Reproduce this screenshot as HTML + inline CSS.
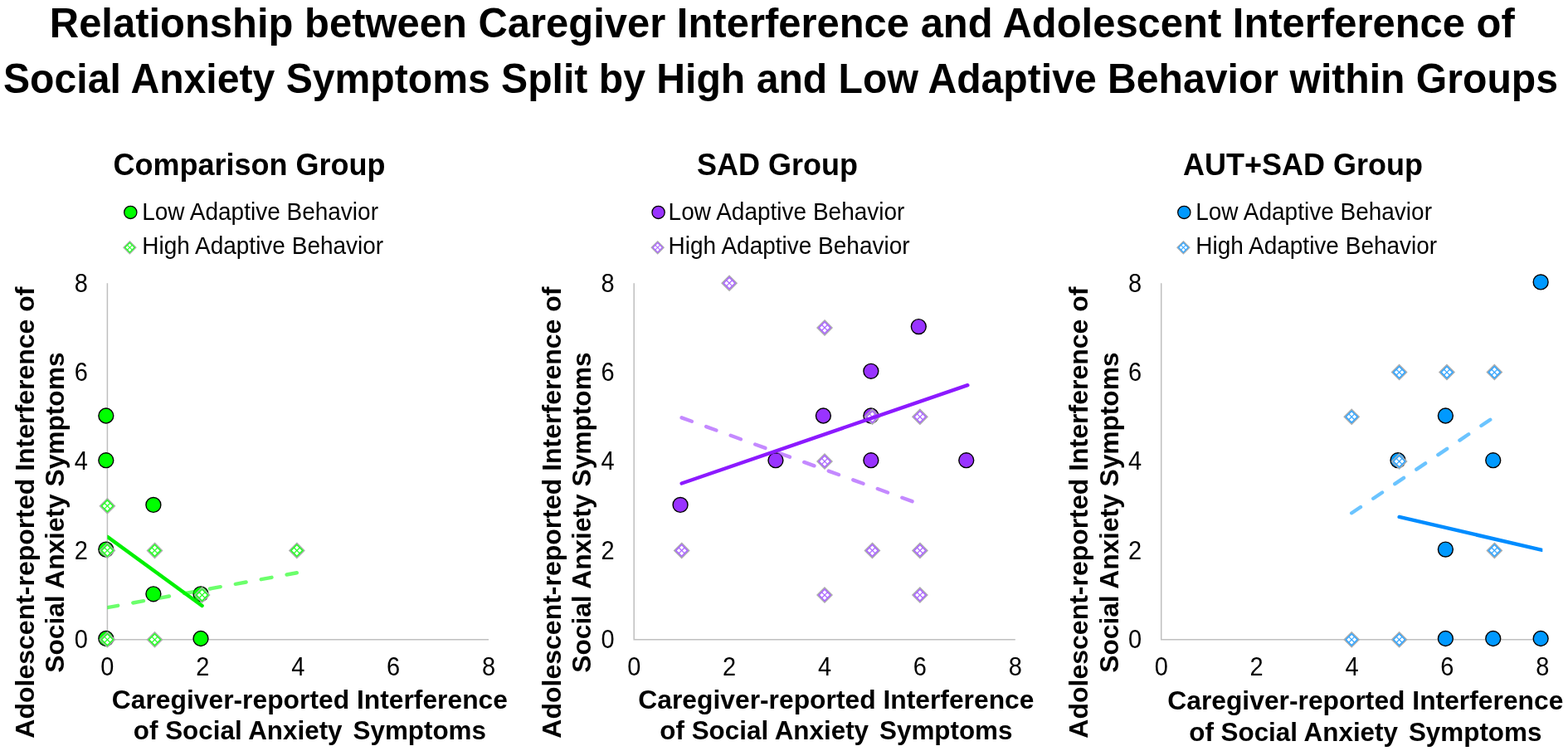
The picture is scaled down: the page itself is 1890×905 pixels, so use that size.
<!DOCTYPE html>
<html><head><meta charset="utf-8"><title>Relationship between Caregiver Interference and Adolescent Interference</title>
<style>
html,body{margin:0;padding:0;background:#fff;}
body{width:1890px;height:905px;overflow:hidden;}
svg{display:block;}
text{font-family:"Liberation Sans",Arial,sans-serif;fill:#000;}
.t{font-weight:bold;font-size:49.5px;}
.pt{font-weight:bold;font-size:36px;}
.lg{font-size:28px;}
.tk{font-size:29px;}
.at{font-weight:bold;font-size:31.8px;}
.at2{font-weight:bold;font-size:31.4px;}
.ay{font-weight:bold;font-size:32px;}
.ay2{font-weight:bold;font-size:31.7px;}
</style></head><body>
<svg width="1890" height="905" viewBox="0 0 1890 905">
<rect width="1890" height="905" fill="#fff"/>
<text class="t" x="59.8" y="44.8" textLength="1766" lengthAdjust="spacingAndGlyphs">Relationship between Caregiver Interference and Adolescent Interference of</text>
<text class="t" x="4" y="112.2" textLength="1874" lengthAdjust="spacingAndGlyphs">Social Anxiety Symptoms Split by High and Low Adaptive Behavior within Groups</text>
<g id="panel1">
<text class="pt" x="300.60" y="211.20" text-anchor="middle">Comparison Group</text>
<circle cx="157.3" cy="255.9" r="7.6" fill="#00ff00" stroke="#000" stroke-width="1.3"/>
<text class="lg" transform="translate(171.20 264.50) scale(1 1.06)">Low Adaptive Behavior</text>
<path d="M156.40 290.70L164.00 298.30L156.40 305.90L148.80 298.30Z" fill="#2cff2c" stroke="#adadad" stroke-width="1.1"/><path d="M156.40 293.44L158.45 295.49L156.40 297.54L154.35 295.49ZM159.21 296.25L161.26 298.30L159.21 300.35L157.16 298.30ZM156.40 299.06L158.45 301.11L156.40 303.16L154.35 301.11ZM153.59 296.25L155.64 298.30L153.59 300.35L151.54 298.30Z" fill="#fff"/>
<text class="lg" transform="translate(171.20 306.30) scale(1 1.06)">High Adaptive Behavior</text>
<path d="M129.40 341.20V770.80H589.00" fill="none" stroke="#bfbfbf" stroke-width="1.5"/>
<text class="tk" transform="translate(105.80 781.20) scale(1 1.07)" text-anchor="end">0</text>
<text class="tk" transform="translate(129.40 813.60) scale(1 1.07)" text-anchor="middle">0</text>
<text class="tk" transform="translate(105.80 673.80) scale(1 1.07)" text-anchor="end">2</text>
<text class="tk" transform="translate(244.30 813.60) scale(1 1.07)" text-anchor="middle">2</text>
<text class="tk" transform="translate(105.80 566.40) scale(1 1.07)" text-anchor="end">4</text>
<text class="tk" transform="translate(359.20 813.60) scale(1 1.07)" text-anchor="middle">4</text>
<text class="tk" transform="translate(105.80 459.00) scale(1 1.07)" text-anchor="end">6</text>
<text class="tk" transform="translate(474.10 813.60) scale(1 1.07)" text-anchor="middle">6</text>
<text class="tk" transform="translate(105.80 351.60) scale(1 1.07)" text-anchor="end">8</text>
<text class="tk" transform="translate(589.00 813.60) scale(1 1.07)" text-anchor="middle">8</text>
<text class="at" x="373.40" y="853.80" text-anchor="middle">Caregiver-reported Interference</text>
<text class="at2" x="373.4" y="891.4" text-anchor="middle">of Social Anxiety <tspan dx="4.2">Symptoms</tspan></text>
<text class="ay" transform="translate(41.0 617.6) rotate(-90)" text-anchor="middle">Adolescent-reported Interference of</text>
<text class="ay2" transform="translate(77.2 617.6) rotate(-90)" text-anchor="middle">Social Anxiety Symptoms</text>
<circle cx="127.80" cy="501.00" r="8.95" fill="#00ff00" stroke="#000" stroke-width="1.4"/>
<circle cx="127.80" cy="554.70" r="8.95" fill="#00ff00" stroke="#000" stroke-width="1.4"/>
<circle cx="127.80" cy="662.10" r="8.95" fill="#00ff00" stroke="#000" stroke-width="1.4"/>
<circle cx="127.80" cy="769.50" r="8.95" fill="#00ff00" stroke="#000" stroke-width="1.4"/>
<circle cx="184.90" cy="608.40" r="8.95" fill="#00ff00" stroke="#000" stroke-width="1.4"/>
<circle cx="184.90" cy="715.80" r="8.95" fill="#00ff00" stroke="#000" stroke-width="1.4"/>
<circle cx="242.00" cy="715.80" r="8.95" fill="#00ff00" stroke="#000" stroke-width="1.4"/>
<circle cx="242.00" cy="769.50" r="8.95" fill="#00ff00" stroke="#000" stroke-width="1.4"/>
<path d="M129.40 600.60L138.50 609.70L129.40 618.80L120.30 609.70Z" fill="#2cff2c" stroke="#adadad" stroke-width="1.3"/><path d="M129.40 603.88L131.86 606.33L129.40 608.79L126.94 606.33ZM132.77 607.24L135.22 609.70L132.77 612.16L130.31 609.70ZM129.40 610.61L131.86 613.07L129.40 615.52L126.94 613.07ZM126.03 607.24L128.49 609.70L126.03 612.16L123.58 609.70Z" fill="#fff"/>
<path d="M129.40 654.30L138.50 663.40L129.40 672.50L120.30 663.40Z" fill="#2cff2c" stroke="#adadad" stroke-width="1.3"/><path d="M129.40 657.58L131.86 660.03L129.40 662.49L126.94 660.03ZM132.77 660.94L135.22 663.40L132.77 665.86L130.31 663.40ZM129.40 664.31L131.86 666.77L129.40 669.22L126.94 666.77ZM126.03 660.94L128.49 663.40L126.03 665.86L123.58 663.40Z" fill="#fff"/>
<path d="M129.40 761.70L138.50 770.80L129.40 779.90L120.30 770.80Z" fill="#2cff2c" stroke="#adadad" stroke-width="1.3"/><path d="M129.40 764.98L131.86 767.43L129.40 769.89L126.94 767.43ZM132.77 768.34L135.22 770.80L132.77 773.26L130.31 770.80ZM129.40 771.71L131.86 774.17L129.40 776.62L126.94 774.17ZM126.03 768.34L128.49 770.80L126.03 773.26L123.58 770.80Z" fill="#fff"/>
<path d="M186.50 654.30L195.60 663.40L186.50 672.50L177.40 663.40Z" fill="#2cff2c" stroke="#adadad" stroke-width="1.3"/><path d="M186.50 657.58L188.96 660.03L186.50 662.49L184.04 660.03ZM189.87 660.94L192.32 663.40L189.87 665.86L187.41 663.40ZM186.50 664.31L188.96 666.77L186.50 669.22L184.04 666.77ZM183.13 660.94L185.59 663.40L183.13 665.86L180.68 663.40Z" fill="#fff"/>
<path d="M186.50 761.70L195.60 770.80L186.50 779.90L177.40 770.80Z" fill="#2cff2c" stroke="#adadad" stroke-width="1.3"/><path d="M186.50 764.98L188.96 767.43L186.50 769.89L184.04 767.43ZM189.87 768.34L192.32 770.80L189.87 773.26L187.41 770.80ZM186.50 771.71L188.96 774.17L186.50 776.62L184.04 774.17ZM183.13 768.34L185.59 770.80L183.13 773.26L180.68 770.80Z" fill="#fff"/>
<path d="M243.60 708.00L252.70 717.10L243.60 726.20L234.50 717.10Z" fill="#2cff2c" stroke="#adadad" stroke-width="1.3"/><path d="M243.60 711.28L246.06 713.73L243.60 716.19L241.14 713.73ZM246.97 714.64L249.42 717.10L246.97 719.56L244.51 717.10ZM243.60 718.01L246.06 720.47L243.60 722.92L241.14 720.47ZM240.23 714.64L242.69 717.10L240.23 719.56L237.78 717.10Z" fill="#fff"/>
<path d="M357.80 654.30L366.90 663.40L357.80 672.50L348.70 663.40Z" fill="#2cff2c" stroke="#adadad" stroke-width="1.3"/><path d="M357.80 657.58L360.26 660.03L357.80 662.49L355.34 660.03ZM361.17 660.94L363.62 663.40L361.17 665.86L358.71 663.40ZM357.80 664.31L360.26 666.77L357.80 669.22L355.34 666.77ZM354.43 660.94L356.89 663.40L354.43 665.86L351.98 663.40Z" fill="#fff"/>
<clipPath id="cp0"><rect x="129.40" y="321.20" width="459.60" height="449.60"/></clipPath>
<g clip-path="url(#cp0)">
<line x1="129.40" y1="646.75" x2="243.60" y2="729.99" stroke="#00f000" stroke-width="4.4" stroke-linecap="round"/>
<line x1="129.40" y1="732.14" x2="357.80" y2="690.25" stroke="#00ff00" stroke-opacity="0.58" stroke-width="4.4" stroke-linecap="round" stroke-dasharray="13 18.4"/>
</g></g>
<g id="panel2">
<text class="pt" x="937.00" y="211.20" text-anchor="middle">SAD Group</text>
<circle cx="793.6" cy="255.9" r="7.6" fill="#9933ff" stroke="#000" stroke-width="1.3"/>
<text class="lg" transform="translate(805.60 264.50) scale(1 1.06)">Low Adaptive Behavior</text>
<path d="M792.70 290.70L800.30 298.30L792.70 305.90L785.10 298.30Z" fill="#ad6bff" stroke="#adadad" stroke-width="1.1"/><path d="M792.70 293.44L794.75 295.49L792.70 297.54L790.65 295.49ZM795.51 296.25L797.56 298.30L795.51 300.35L793.46 298.30ZM792.70 299.06L794.75 301.11L792.70 303.16L790.65 301.11ZM789.89 296.25L791.94 298.30L789.89 300.35L787.84 298.30Z" fill="#fff"/>
<text class="lg" transform="translate(805.60 306.30) scale(1 1.06)">High Adaptive Behavior</text>
<path d="M764.20 341.20V770.80H1223.80" fill="none" stroke="#bfbfbf" stroke-width="1.5"/>
<text class="tk" transform="translate(740.60 781.20) scale(1 1.07)" text-anchor="end">0</text>
<text class="tk" transform="translate(764.20 813.60) scale(1 1.07)" text-anchor="middle">0</text>
<text class="tk" transform="translate(740.60 673.80) scale(1 1.07)" text-anchor="end">2</text>
<text class="tk" transform="translate(879.10 813.60) scale(1 1.07)" text-anchor="middle">2</text>
<text class="tk" transform="translate(740.60 566.40) scale(1 1.07)" text-anchor="end">4</text>
<text class="tk" transform="translate(994.00 813.60) scale(1 1.07)" text-anchor="middle">4</text>
<text class="tk" transform="translate(740.60 459.00) scale(1 1.07)" text-anchor="end">6</text>
<text class="tk" transform="translate(1108.90 813.60) scale(1 1.07)" text-anchor="middle">6</text>
<text class="tk" transform="translate(740.60 351.60) scale(1 1.07)" text-anchor="end">8</text>
<text class="tk" transform="translate(1223.80 813.60) scale(1 1.07)" text-anchor="middle">8</text>
<text class="at" x="1007.90" y="853.80" text-anchor="middle">Caregiver-reported Interference</text>
<text class="at2" x="1007.9" y="891.4" text-anchor="middle">of Social Anxiety <tspan dx="4.2">Symptoms</tspan></text>
<text class="ay" transform="translate(675.8 617.6) rotate(-90)" text-anchor="middle">Adolescent-reported Interference of</text>
<text class="ay2" transform="translate(712.0 617.6) rotate(-90)" text-anchor="middle">Social Anxiety Symptoms</text>
<circle cx="820.05" cy="608.40" r="8.95" fill="#9933ff" stroke="#000" stroke-width="1.4"/>
<circle cx="934.95" cy="554.70" r="8.95" fill="#9933ff" stroke="#000" stroke-width="1.4"/>
<circle cx="992.40" cy="501.00" r="8.95" fill="#9933ff" stroke="#000" stroke-width="1.4"/>
<circle cx="1049.85" cy="447.30" r="8.95" fill="#9933ff" stroke="#000" stroke-width="1.4"/>
<circle cx="1049.85" cy="501.00" r="8.95" fill="#9933ff" stroke="#000" stroke-width="1.4"/>
<circle cx="1049.85" cy="554.70" r="8.95" fill="#9933ff" stroke="#000" stroke-width="1.4"/>
<circle cx="1107.30" cy="393.60" r="8.95" fill="#9933ff" stroke="#000" stroke-width="1.4"/>
<circle cx="1164.75" cy="554.70" r="8.95" fill="#9933ff" stroke="#000" stroke-width="1.4"/>
<path d="M821.65 654.30L830.75 663.40L821.65 672.50L812.55 663.40Z" fill="#ad6bff" stroke="#adadad" stroke-width="1.3"/><path d="M821.65 657.58L824.11 660.03L821.65 662.49L819.19 660.03ZM825.02 660.94L827.47 663.40L825.02 665.86L822.56 663.40ZM821.65 664.31L824.11 666.77L821.65 669.22L819.19 666.77ZM818.28 660.94L820.74 663.40L818.28 665.86L815.83 663.40Z" fill="#fff"/>
<path d="M879.10 332.10L888.20 341.20L879.10 350.30L870.00 341.20Z" fill="#ad6bff" stroke="#adadad" stroke-width="1.3"/><path d="M879.10 335.38L881.56 337.83L879.10 340.29L876.64 337.83ZM882.47 338.74L884.92 341.20L882.47 343.66L880.01 341.20ZM879.10 342.11L881.56 344.57L879.10 347.02L876.64 344.57ZM875.73 338.74L878.19 341.20L875.73 343.66L873.28 341.20Z" fill="#fff"/>
<path d="M994.00 385.80L1003.10 394.90L994.00 404.00L984.90 394.90Z" fill="#ad6bff" stroke="#adadad" stroke-width="1.3"/><path d="M994.00 389.08L996.46 391.53L994.00 393.99L991.54 391.53ZM997.37 392.44L999.82 394.90L997.37 397.36L994.91 394.90ZM994.00 395.81L996.46 398.27L994.00 400.72L991.54 398.27ZM990.63 392.44L993.09 394.90L990.63 397.36L988.18 394.90Z" fill="#fff"/>
<path d="M994.00 546.90L1003.10 556.00L994.00 565.10L984.90 556.00Z" fill="#ad6bff" stroke="#adadad" stroke-width="1.3"/><path d="M994.00 550.18L996.46 552.63L994.00 555.09L991.54 552.63ZM997.37 553.54L999.82 556.00L997.37 558.46L994.91 556.00ZM994.00 556.91L996.46 559.37L994.00 561.82L991.54 559.37ZM990.63 553.54L993.09 556.00L990.63 558.46L988.18 556.00Z" fill="#fff"/>
<path d="M994.00 708.00L1003.10 717.10L994.00 726.20L984.90 717.10Z" fill="#ad6bff" stroke="#adadad" stroke-width="1.3"/><path d="M994.00 711.28L996.46 713.73L994.00 716.19L991.54 713.73ZM997.37 714.64L999.82 717.10L997.37 719.56L994.91 717.10ZM994.00 718.01L996.46 720.47L994.00 722.92L991.54 720.47ZM990.63 714.64L993.09 717.10L990.63 719.56L988.18 717.10Z" fill="#fff"/>
<path d="M1051.45 493.20L1060.55 502.30L1051.45 511.40L1042.35 502.30Z" fill="#ad6bff" stroke="#adadad" stroke-width="1.3"/><path d="M1051.45 496.48L1053.91 498.93L1051.45 501.39L1048.99 498.93ZM1054.82 499.84L1057.27 502.30L1054.82 504.76L1052.36 502.30ZM1051.45 503.21L1053.91 505.67L1051.45 508.12L1048.99 505.67ZM1048.08 499.84L1050.54 502.30L1048.08 504.76L1045.63 502.30Z" fill="#fff"/>
<path d="M1051.45 654.30L1060.55 663.40L1051.45 672.50L1042.35 663.40Z" fill="#ad6bff" stroke="#adadad" stroke-width="1.3"/><path d="M1051.45 657.58L1053.91 660.03L1051.45 662.49L1048.99 660.03ZM1054.82 660.94L1057.27 663.40L1054.82 665.86L1052.36 663.40ZM1051.45 664.31L1053.91 666.77L1051.45 669.22L1048.99 666.77ZM1048.08 660.94L1050.54 663.40L1048.08 665.86L1045.63 663.40Z" fill="#fff"/>
<path d="M1108.90 493.20L1118.00 502.30L1108.90 511.40L1099.80 502.30Z" fill="#ad6bff" stroke="#adadad" stroke-width="1.3"/><path d="M1108.90 496.48L1111.36 498.93L1108.90 501.39L1106.44 498.93ZM1112.27 499.84L1114.72 502.30L1112.27 504.76L1109.81 502.30ZM1108.90 503.21L1111.36 505.67L1108.90 508.12L1106.44 505.67ZM1105.53 499.84L1107.99 502.30L1105.53 504.76L1103.08 502.30Z" fill="#fff"/>
<path d="M1108.90 654.30L1118.00 663.40L1108.90 672.50L1099.80 663.40Z" fill="#ad6bff" stroke="#adadad" stroke-width="1.3"/><path d="M1108.90 657.58L1111.36 660.03L1108.90 662.49L1106.44 660.03ZM1112.27 660.94L1114.72 663.40L1112.27 665.86L1109.81 663.40ZM1108.90 664.31L1111.36 666.77L1108.90 669.22L1106.44 666.77ZM1105.53 660.94L1107.99 663.40L1105.53 665.86L1103.08 663.40Z" fill="#fff"/>
<path d="M1108.90 708.00L1118.00 717.10L1108.90 726.20L1099.80 717.10Z" fill="#ad6bff" stroke="#adadad" stroke-width="1.3"/><path d="M1108.90 711.28L1111.36 713.73L1108.90 716.19L1106.44 713.73ZM1112.27 714.64L1114.72 717.10L1112.27 719.56L1109.81 717.10ZM1108.90 718.01L1111.36 720.47L1108.90 722.92L1106.44 720.47ZM1105.53 714.64L1107.99 717.10L1105.53 719.56L1103.08 717.10Z" fill="#fff"/>
<clipPath id="cp1"><rect x="764.20" y="321.20" width="459.60" height="449.60"/></clipPath>
<g clip-path="url(#cp1)">
<line x1="821.65" y1="582.47" x2="1166.35" y2="464.17" stroke="#8c1aff" stroke-width="4.4" stroke-linecap="round"/>
<line x1="821.65" y1="503.37" x2="1108.90" y2="607.55" stroke="#9933ff" stroke-opacity="0.58" stroke-width="4.4" stroke-linecap="round" stroke-dasharray="13 18.4"/>
</g></g>
<g id="panel3">
<text class="pt" x="1570.60" y="211.20" text-anchor="middle">AUT+SAD Group</text>
<circle cx="1427.3" cy="255.9" r="7.6" fill="#0099ff" stroke="#000" stroke-width="1.3"/>
<text class="lg" transform="translate(1441.20 264.50) scale(1 1.06)">Low Adaptive Behavior</text>
<path d="M1426.40 290.70L1434.00 298.30L1426.40 305.90L1418.80 298.30Z" fill="#3aa8ff" stroke="#adadad" stroke-width="1.1"/><path d="M1426.40 293.44L1428.45 295.49L1426.40 297.54L1424.35 295.49ZM1429.21 296.25L1431.26 298.30L1429.21 300.35L1427.16 298.30ZM1426.40 299.06L1428.45 301.11L1426.40 303.16L1424.35 301.11ZM1423.59 296.25L1425.64 298.30L1423.59 300.35L1421.54 298.30Z" fill="#fff"/>
<text class="lg" transform="translate(1441.20 306.30) scale(1 1.06)">High Adaptive Behavior</text>
<path d="M1399.70 341.20V770.80H1859.30" fill="none" stroke="#bfbfbf" stroke-width="1.5"/>
<text class="tk" transform="translate(1376.10 781.20) scale(1 1.07)" text-anchor="end">0</text>
<text class="tk" transform="translate(1399.70 813.60) scale(1 1.07)" text-anchor="middle">0</text>
<text class="tk" transform="translate(1376.10 673.80) scale(1 1.07)" text-anchor="end">2</text>
<text class="tk" transform="translate(1514.60 813.60) scale(1 1.07)" text-anchor="middle">2</text>
<text class="tk" transform="translate(1376.10 566.40) scale(1 1.07)" text-anchor="end">4</text>
<text class="tk" transform="translate(1629.50 813.60) scale(1 1.07)" text-anchor="middle">4</text>
<text class="tk" transform="translate(1376.10 459.00) scale(1 1.07)" text-anchor="end">6</text>
<text class="tk" transform="translate(1744.40 813.60) scale(1 1.07)" text-anchor="middle">6</text>
<text class="tk" transform="translate(1376.10 351.60) scale(1 1.07)" text-anchor="end">8</text>
<text class="tk" transform="translate(1859.30 813.60) scale(1 1.07)" text-anchor="middle">8</text>
<text class="at" x="1645.80" y="855.10" text-anchor="middle">Caregiver-reported Interference</text>
<text class="at2" x="1645.8" y="892.6" text-anchor="middle">of Social Anxiety <tspan dx="4.2">Symptoms</tspan></text>
<text class="ay" transform="translate(1311.3 617.6) rotate(-90)" text-anchor="middle">Adolescent-reported Interference of</text>
<text class="ay2" transform="translate(1347.5 617.6) rotate(-90)" text-anchor="middle">Social Anxiety Symptoms</text>
<circle cx="1857.14" cy="339.90" r="8.95" fill="#0099ff" stroke="#000" stroke-width="1.4"/>
<circle cx="1742.38" cy="501.00" r="8.95" fill="#0099ff" stroke="#000" stroke-width="1.4"/>
<circle cx="1685.00" cy="554.70" r="8.95" fill="#0099ff" stroke="#000" stroke-width="1.4"/>
<circle cx="1799.76" cy="554.70" r="8.95" fill="#0099ff" stroke="#000" stroke-width="1.4"/>
<circle cx="1742.38" cy="662.10" r="8.95" fill="#0099ff" stroke="#000" stroke-width="1.4"/>
<circle cx="1742.38" cy="769.50" r="8.95" fill="#0099ff" stroke="#000" stroke-width="1.4"/>
<circle cx="1799.76" cy="769.50" r="8.95" fill="#0099ff" stroke="#000" stroke-width="1.4"/>
<circle cx="1857.14" cy="769.50" r="8.95" fill="#0099ff" stroke="#000" stroke-width="1.4"/>
<path d="M1629.22 493.20L1638.32 502.30L1629.22 511.40L1620.12 502.30Z" fill="#3aa8ff" stroke="#adadad" stroke-width="1.3"/><path d="M1629.22 496.48L1631.68 498.93L1629.22 501.39L1626.76 498.93ZM1632.59 499.84L1635.04 502.30L1632.59 504.76L1630.13 502.30ZM1629.22 503.21L1631.68 505.67L1629.22 508.12L1626.76 505.67ZM1625.85 499.84L1628.31 502.30L1625.85 504.76L1623.40 502.30Z" fill="#fff"/>
<path d="M1686.60 439.50L1695.70 448.60L1686.60 457.70L1677.50 448.60Z" fill="#3aa8ff" stroke="#adadad" stroke-width="1.3"/><path d="M1686.60 442.78L1689.06 445.23L1686.60 447.69L1684.14 445.23ZM1689.97 446.14L1692.42 448.60L1689.97 451.06L1687.51 448.60ZM1686.60 449.51L1689.06 451.97L1686.60 454.42L1684.14 451.97ZM1683.23 446.14L1685.69 448.60L1683.23 451.06L1680.78 448.60Z" fill="#fff"/>
<path d="M1743.98 439.50L1753.08 448.60L1743.98 457.70L1734.88 448.60Z" fill="#3aa8ff" stroke="#adadad" stroke-width="1.3"/><path d="M1743.98 442.78L1746.44 445.23L1743.98 447.69L1741.52 445.23ZM1747.35 446.14L1749.80 448.60L1747.35 451.06L1744.89 448.60ZM1743.98 449.51L1746.44 451.97L1743.98 454.42L1741.52 451.97ZM1740.61 446.14L1743.07 448.60L1740.61 451.06L1738.16 448.60Z" fill="#fff"/>
<path d="M1801.36 439.50L1810.46 448.60L1801.36 457.70L1792.26 448.60Z" fill="#3aa8ff" stroke="#adadad" stroke-width="1.3"/><path d="M1801.36 442.78L1803.82 445.23L1801.36 447.69L1798.90 445.23ZM1804.73 446.14L1807.18 448.60L1804.73 451.06L1802.27 448.60ZM1801.36 449.51L1803.82 451.97L1801.36 454.42L1798.90 451.97ZM1797.99 446.14L1800.45 448.60L1797.99 451.06L1795.54 448.60Z" fill="#fff"/>
<path d="M1686.60 546.90L1695.70 556.00L1686.60 565.10L1677.50 556.00Z" fill="#3aa8ff" stroke="#adadad" stroke-width="1.3"/><path d="M1686.60 550.18L1689.06 552.63L1686.60 555.09L1684.14 552.63ZM1689.97 553.54L1692.42 556.00L1689.97 558.46L1687.51 556.00ZM1686.60 556.91L1689.06 559.37L1686.60 561.82L1684.14 559.37ZM1683.23 553.54L1685.69 556.00L1683.23 558.46L1680.78 556.00Z" fill="#fff"/>
<path d="M1801.36 654.30L1810.46 663.40L1801.36 672.50L1792.26 663.40Z" fill="#3aa8ff" stroke="#adadad" stroke-width="1.3"/><path d="M1801.36 657.58L1803.82 660.03L1801.36 662.49L1798.90 660.03ZM1804.73 660.94L1807.18 663.40L1804.73 665.86L1802.27 663.40ZM1801.36 664.31L1803.82 666.77L1801.36 669.22L1798.90 666.77ZM1797.99 660.94L1800.45 663.40L1797.99 665.86L1795.54 663.40Z" fill="#fff"/>
<path d="M1629.22 761.70L1638.32 770.80L1629.22 779.90L1620.12 770.80Z" fill="#3aa8ff" stroke="#adadad" stroke-width="1.3"/><path d="M1629.22 764.98L1631.68 767.43L1629.22 769.89L1626.76 767.43ZM1632.59 768.34L1635.04 770.80L1632.59 773.26L1630.13 770.80ZM1629.22 771.71L1631.68 774.17L1629.22 776.62L1626.76 774.17ZM1625.85 768.34L1628.31 770.80L1625.85 773.26L1623.40 770.80Z" fill="#fff"/>
<path d="M1686.60 761.70L1695.70 770.80L1686.60 779.90L1677.50 770.80Z" fill="#3aa8ff" stroke="#adadad" stroke-width="1.3"/><path d="M1686.60 764.98L1689.06 767.43L1686.60 769.89L1684.14 767.43ZM1689.97 768.34L1692.42 770.80L1689.97 773.26L1687.51 770.80ZM1686.60 771.71L1689.06 774.17L1686.60 776.62L1684.14 774.17ZM1683.23 768.34L1685.69 770.80L1683.23 773.26L1680.78 770.80Z" fill="#fff"/>
<clipPath id="cp2"><rect x="1399.70" y="321.20" width="459.60" height="449.60"/></clipPath>
<g clip-path="url(#cp2)">
<line x1="1686.60" y1="622.91" x2="1858.74" y2="662.86" stroke="#008cff" stroke-width="4.4" stroke-linecap="round"/>
<line x1="1629.22" y1="618.29" x2="1801.36" y2="502.30" stroke="#0099ff" stroke-opacity="0.58" stroke-width="4.4" stroke-linecap="round" stroke-dasharray="13 18.4"/>
</g></g>
</svg>
</body></html>
